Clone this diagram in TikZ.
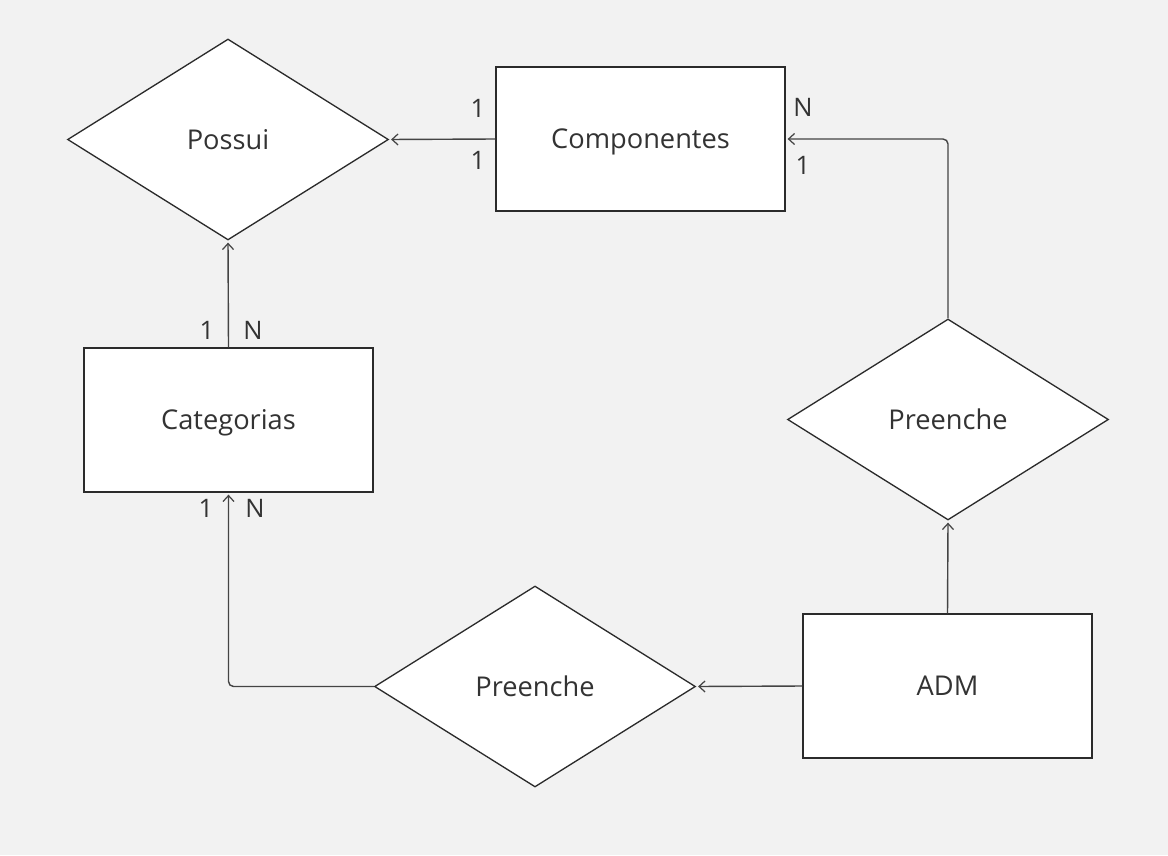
\documentclass[tikz,border=0pt]{standalone}
\usepackage{fontspec}
\setmainfont{Open Sans}
\usetikzlibrary{shapes.geometric,arrows.meta}
\definecolor{bg}{HTML}{F2F2F2}
\definecolor{ink}{HTML}{2B2B2B}
\definecolor{wire}{HTML}{444444}
\definecolor{txt}{HTML}{333333}
\tikzset{
  entity/.style={draw=ink, fill=white, line width=0.75pt, minimum width=5.78cm, minimum height=2.88cm, inner sep=0pt, text depth=0pt, text=txt, font=\fontsize{15.5}{18}\selectfont},
  relation/.style={diamond, draw=ink, fill=white, line width=0.75pt, minimum width=6.42cm, minimum height=4.02cm, inner sep=0pt, text depth=0pt, text=txt, font=\fontsize{15.5}{18}\selectfont},
  link/.style={draw=wire, line width=0.8pt, -{Straight Barb[length=0.12cm, width=0.22cm, line width=0.7pt]}, rounded corners=0.1cm, shorten >=0.04cm},
  card/.style={text=txt, inner sep=0pt, font=\fontsize{14.5}{17}\selectfont}
}
\begin{document}
\begin{tikzpicture}[x=0.02cm, y=-0.02cm]
\fill[bg] (0,0) rectangle (1168,855);
\useasboundingbox (0,0) rectangle (1168,855);
\node[relation] (possui) at (228,139.5) {Possui};
\node[entity] (comp) at (640.5,139) {Componentes};
\node[entity] (cat) at (228.5,420) {Categorias};
\node[relation] (pre1) at (948,419.5) {Preenche};
\node[entity] (adm) at (947.5,686) {ADM};
\node[relation] (pre2) at (535,686.5) {Preenche};
\draw[link] (comp.west) -- (possui.east);
\draw[link] (cat.north) -- (possui.south);
\draw[link] (pre1.north) |- (comp.east);
\draw[link] (adm.north) -- (pre1.south);
\draw[link] (adm.west) -- (pre2.east);
\draw[link] (pre2.west) -| (cat.south);
\node[card] (c1) at (478,108) {1};
\node[card] (c2) at (478,160) {1};
\node[card] (c3) at (803,107) {N};
\node[card] (c4) at (803,165) {1};
\node[card] (c5) at (207,330) {1};
\node[card] (c6) at (253,330) {N};
\node[card] (c7) at (206,508) {1};
\node[card] (c8) at (255,508) {N};
\end{tikzpicture}
\end{document}
